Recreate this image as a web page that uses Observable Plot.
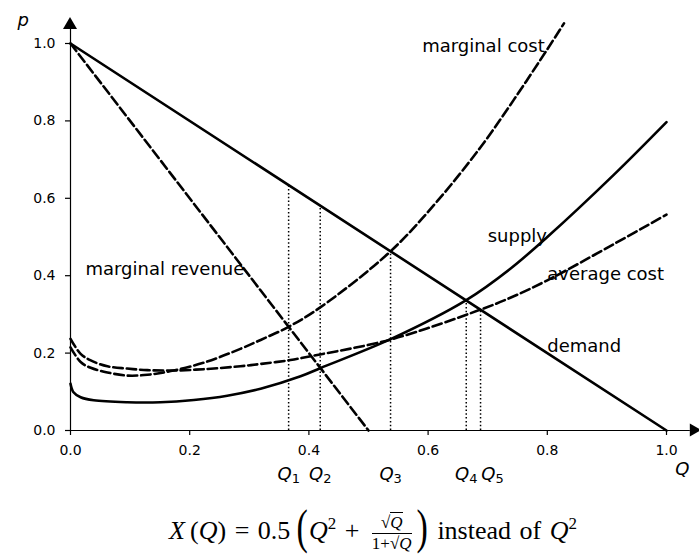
<!DOCTYPE html>
<html><head><meta charset="utf-8">
<script src="https://cdn.jsdelivr.net/npm/d3@7"></script>
<script src="https://cdn.jsdelivr.net/npm/@observablehq/plot@0.6"></script>
<style>
html,body{margin:0;padding:0;background:#fff;}
#wrap{width:699px;height:554px;position:relative;overflow:hidden;background:#fff}
#chart svg{display:block}
#cap{position:absolute;left:169px;top:500px;height:54px;line-height:54px;white-space:nowrap;
  font-family:"Liberation Serif","DejaVu Serif",serif;font-size:26px;word-spacing:2px;color:#000}
#cap .it{font-style:italic}
#cap sup{font-size:17px;vertical-align:10px;line-height:0}
#cap .frac{display:inline-block;vertical-align:middle;text-align:center;font-size:17px;line-height:18px;margin:0 4px}
#cap .num{display:block;border-bottom:1px solid #000;padding:0 1px 1px}
#cap .den{display:block;padding-top:1px}
#cap .ov{border-top:1px solid #000}
#cap .bp{display:inline-block;font-size:34px;transform:scaleY(1.45);vertical-align:1px;margin:0 1px}
</style></head>
<body>
<div id="wrap"><div id="chart"></div>
<div id="cap"><span class="it">X</span>&#8201;(<span class="it">Q</span>) = 0.5&#8201;<span class="bp">(</span><span class="it">Q</span><sup>2</sup> + <span class="frac"><span class="num">√<span class="ov it">Q</span></span><span class="den">1+√<span class="ov it">Q</span></span></span><span class="bp">)</span> instead of <span class="it">Q</span><sup>2</sup></div>
</div>
<script>
// ---- data ----
const ticks = [0, 0.2, 0.4, 0.6, 0.8, 1.0];

const demandQ = [0, 1];
const demandP = [1, 0];

const mrQ = [0, 0.5];
const mrP = [1, 0];

const supplyQ = [0, 0.005, 0.017, 0.039, 0.095, 0.151, 0.207, 0.263, 0.319, 0.386, 0.419, 0.537, 0.664, 0.738, 0.8, 0.911, 1.0];
const supplyP = [0.121, 0.099, 0.086, 0.078, 0.073, 0.073, 0.079, 0.090, 0.108, 0.140, 0.161, 0.236, 0.337, 0.418, 0.5, 0.66, 0.797];

const mcQ = [0, 0.017, 0.034, 0.062, 0.095, 0.129, 0.173, 0.229, 0.285, 0.319, 0.366, 0.419, 0.537, 0.615, 0.688, 0.744, 0.8, 0.828];
const mcP = [0.215, 0.177, 0.162, 0.150, 0.142, 0.144, 0.155, 0.178, 0.211, 0.234, 0.268, 0.318, 0.463, 0.592, 0.732, 0.855, 0.985, 1.052];

const acQ = [0, 0.017, 0.034, 0.062, 0.095, 0.129, 0.173, 0.229, 0.285, 0.319, 0.369, 0.403, 0.537, 0.689, 0.738, 0.8, 0.912, 1.0];
const acP = [0.237, 0.198, 0.181, 0.166, 0.160, 0.156, 0.155, 0.159, 0.166, 0.172, 0.182, 0.192, 0.235, 0.313, 0.343, 0.388, 0.482, 0.558];

const qSubs = ["1", "2", "3", "4", "5"];
const qValues = [0.366, 0.419, 0.537, 0.664, 0.688];
const qTops = [0.634, 0.581, 0.463, 0.336, 0.312];
const qLabelAt = [0.366, 0.419, 0.537, 0.664, 0.708];

const curveLabels = ["marginal cost", "supply", "average cost", "demand", "marginal revenue"];
const labelQ = [0.59, 0.7, 0.8, 0.8, 0.025];
const labelP = [0.992, 0.502, 0.403, 0.217, 0.416];

const axisTop = 1.036, arrowTipY = 1.067;
const axisRight = 1.04, arrowTipX = 1.059;

// ---- build tables ----
const toRows = (qs, ps) => qs.map((q, i) => ({q, p: ps[i]}));
const demand = toRows(demandQ, demandP);
const mr = toRows(mrQ, mrP);
const supply = toRows(supplyQ, supplyP);
const mc = toRows(mcQ, mcP);
const ac = toRows(acQ, acP);
const qIdx = d3.range(qSubs.length);
const lIdx = d3.range(curveLabels.length);

const dash = "9.5,4";
const lw = 2.6;

const arrows = (index, scales) => {
  const g = d3.create("svg:g").attr("fill", "black");
  const x0 = scales.x(0), y0 = scales.y(0);
  const yb = scales.y(axisTop), yt = scales.y(arrowTipY);
  g.append("polygon").attr("points", `${x0 - 7},${yb} ${x0 + 7},${yb} ${x0},${yt}`);
  const xb = scales.x(axisRight), xt = scales.x(arrowTipX);
  g.append("polygon").attr("points", `${xb},${y0 - 6.5} ${xb},${y0 + 6.5} ${xt},${y0}`);
  return g.node();
};

const chart = Plot.plot({
  width: 699,
  height: 500,
  marginLeft: 70,
  marginRight: 33,
  marginTop: 43,
  marginBottom: 70,
  style: {fontFamily: "DejaVu Sans", fontSize: "14px", color: "black", background: "white", overflow: "visible"},
  x: {domain: [0, 1]},
  y: {domain: [0, 1]},
  marks: [
    Plot.ruleX([0], {y1: 0, y2: axisTop, stroke: "black", strokeWidth: 1.2}),
    Plot.ruleY([0], {x1: 0, x2: axisRight, stroke: "black", strokeWidth: 1.2}),
    Plot.axisX({ticks, tickFormat: ".1f", tickSize: 5, tickPadding: 10, label: null, stroke: "black", strokeWidth: 1.2}),
    Plot.axisY({ticks, tickFormat: ".1f", tickSize: 5, tickPadding: 10, label: null, stroke: "black", strokeWidth: 1.2}),
    Plot.ruleX(qIdx, {x: i => qValues[i], y1: 0, y2: i => qTops[i], stroke: "black", strokeWidth: 1.5, strokeDasharray: "1.5,2.3"}),
    Plot.line(demand, {x: "q", y: "p", stroke: "black", strokeWidth: lw}),
    Plot.line(mr, {x: "q", y: "p", stroke: "black", strokeWidth: lw, strokeDasharray: dash}),
    Plot.line(supply, {x: "q", y: "p", stroke: "black", strokeWidth: lw, curve: "catmull-rom"}),
    Plot.line(mc, {x: "q", y: "p", stroke: "black", strokeWidth: lw, strokeDasharray: dash, curve: "catmull-rom"}),
    Plot.line(ac, {x: "q", y: "p", stroke: "black", strokeWidth: lw, strokeDasharray: dash, curve: "catmull-rom"}),
    Plot.text(lIdx, {x: i => labelQ[i], y: i => labelP[i], text: i => curveLabels[i], textAnchor: "start", fontSize: 18, fill: "black"}),
    Plot.text(qIdx, {x: i => qLabelAt[i], y: 0, text: () => "Q", textAnchor: "end", dx: 3, dy: 44, fontSize: 18, fontStyle: "italic", fill: "black"}),
    Plot.text(qIdx, {x: i => qLabelAt[i], y: 0, text: i => qSubs[i], textAnchor: "start", dx: 3, dy: 48, fontSize: 13, fill: "black"}),
    Plot.text(["p"], {frameAnchor: "top-left", dx: -53, dy: -30, fontSize: 18, fontStyle: "italic", fill: "black"}),
    Plot.text(["Q"], {frameAnchor: "bottom-right", dx: 23, dy: 44, fontSize: 18, fontStyle: "italic", fill: "black"}),
    arrows
  ]
});
document.getElementById("chart").appendChild(chart);
</script>
</body></html>
